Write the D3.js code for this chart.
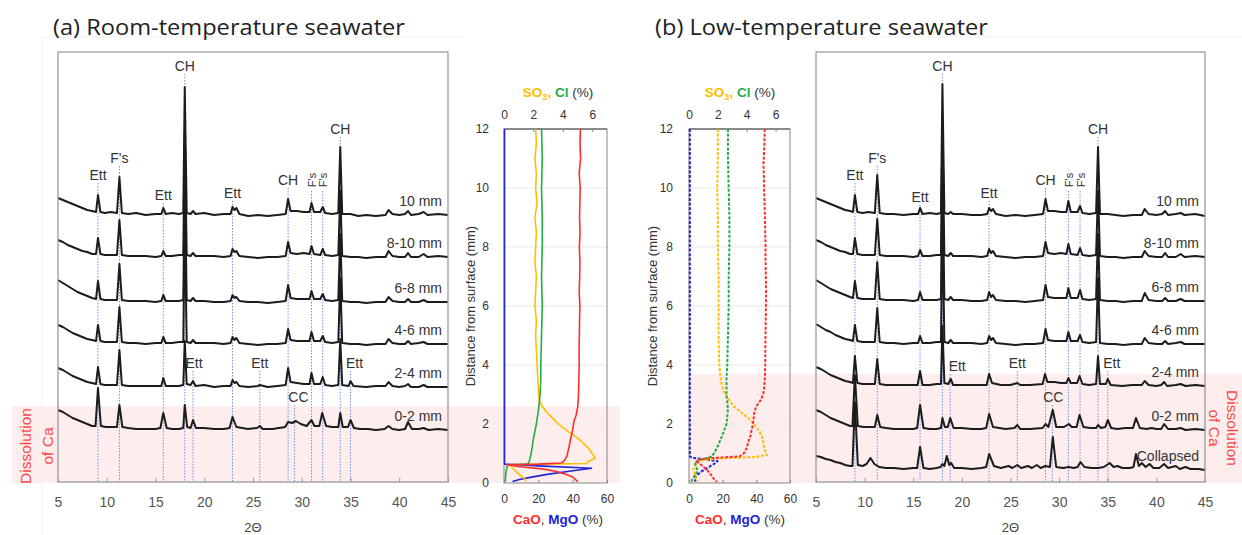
<!DOCTYPE html>
<html>
<head>
<meta charset="utf-8">
<script src="https://cdn.jsdelivr.net/npm/d3@7"></script>
<style>
  body { margin: 0; background: #fff; }
  text { font-family: "Liberation Sans", Arial, sans-serif; }
</style>
</head>
<body>
<svg id="fig" width="1242" height="535"></svg>
<script>
// ---------- XRD patterns: [2theta, intensity above the pattern baseline] ----------
const sampleNamesA = ["10 mm", "8-10 mm", "6-8 mm", "4-6 mm", "2-4 mm", "0-2 mm"];
const sampleNamesB = ["10 mm", "8-10 mm", "6-8 mm", "4-6 mm", "2-4 mm", "0-2 mm", "Collapsed"];
const offsetsA = [267, 225, 180, 138, 95, 52];
const offsetsB = [267, 225, 181, 138, 96, 52, 12];

const xrdA_10 = [[5,17],[5.5,15],[6,13],[6.5,11],[7,9],[7.5,7],[8,5],[8.5,4],[8.9,3],[9.1,20],[9.35,3],[9.8,2],[10.4,3],[11.05,2],[11.3,38],[11.55,2],[12.2,1],[13,2],[14,0],[15,1],[15.6,1],[15.8,7],[16.05,1],[16.7,2],[17.4,1],[17.85,2],[18.0,128],[18.2,2],[18.6,1],[18.85,4],[19.1,1],[20,2],[21,0],[22,1],[22.7,1],[22.9,8],[23.1,5],[23.3,7],[23.6,1],[24.5,-1],[25.5,0],[26.5,-1],[27.5,0],[28.35,1],[28.6,16],[28.85,4],[29.5,4],[30.2,3],[30.8,3],[31.0,12],[31.25,3],[31.9,3],[32.15,8],[32.4,2],[33.1,1],[33.75,2],[33.95,68],[34.15,1],[35,1],[35.8,-1],[36.6,0],[37.6,-1],[38.6,0],[38.9,5],[39.3,1],[40,0],[40.6,1],[40.9,4],[41.2,0],[42,1],[42.5,3],[42.9,0],[44,1],[45,0]];
const xrdA_810 = [[5,17],[5.5,15],[6,12],[6.5,10],[7,8],[7.5,6],[8,5],[8.5,3],[8.9,3],[9.1,19],[9.35,3],[9.8,2],[10.4,2],[11.05,2],[11.3,37],[11.55,2],[12.2,1],[13,1],[14,1],[15,0],[15.6,1],[15.8,6],[16.05,1],[16.7,1],[17.4,2],[17.85,2],[18.0,125],[18.2,2],[18.6,1],[18.85,4],[19.1,1],[20,1],[21,1],[22,0],[22.7,1],[22.9,8],[23.1,5],[23.3,6],[23.6,1],[24.5,0],[25.5,-1],[26.5,0],[27.5,0],[28.35,1],[28.6,15],[28.85,4],[29.5,3],[30.2,4],[30.8,3],[31.0,11],[31.25,3],[31.9,2],[32.15,8],[32.4,2],[33.1,1],[33.75,2],[33.95,66],[34.15,1],[35,0],[35.8,0],[36.6,-1],[37.6,0],[38.6,0],[38.9,6],[39.3,1],[40,0],[40.6,0],[40.9,4],[41.2,0],[42,0],[42.5,3],[42.9,0],[44,1],[45,0]];
const xrdA_68 = [[5,22],[5.5,19],[6,16],[6.5,13],[7,10],[7.5,8],[8,6],[8.5,4],[8.9,3],[9.1,21],[9.35,3],[9.8,2],[10.4,2],[11.05,2],[11.3,38],[11.55,2],[12.2,1],[13,1],[14,1],[15,0],[15.6,1],[15.8,7],[16.05,1],[16.7,1],[17.4,1],[17.85,2],[18.0,126],[18.2,2],[18.6,1],[18.85,4],[19.1,1],[20,1],[21,0],[22,0],[22.7,1],[22.9,7],[23.1,4],[23.3,5],[23.6,1],[24.5,0],[25.5,0],[26.5,-1],[27.5,0],[28.35,1],[28.6,17],[28.85,4],[29.5,3],[30.2,3],[30.8,3],[31.0,11],[31.25,3],[31.9,3],[32.15,8],[32.4,2],[33.1,1],[33.75,2],[33.95,68],[34.15,1],[35,0],[35.8,0],[36.6,-1],[37.6,0],[38.6,0],[38.9,5],[39.3,1],[40,0],[40.6,0],[40.9,3],[41.2,0],[42,0],[42.5,2],[42.9,0],[44,0],[45,0]];
const xrdA_46 = [[5,19],[5.5,17],[6,14],[6.5,11],[7,9],[7.5,7],[8,5],[8.5,4],[8.9,3],[9.1,19],[9.35,3],[9.8,2],[10.4,2],[11.05,2],[11.3,37],[11.55,2],[12.2,1],[13,1],[14,0],[15,1],[15.6,1],[15.8,7],[16.05,1],[16.7,1],[17.4,2],[17.85,2],[18.0,125],[18.2,2],[18.6,1],[18.85,4],[19.1,1],[20,1],[21,1],[22,0],[22.7,1],[22.9,7],[23.1,4],[23.3,6],[23.6,1],[24.5,0],[25.5,-1],[26.5,0],[27.5,0],[28.35,1],[28.6,15],[28.85,4],[29.5,3],[30.2,3],[30.8,3],[31.0,12],[31.25,3],[31.9,3],[32.15,8],[32.4,2],[33.1,1],[33.75,2],[33.95,66],[34.15,1],[35,0],[35.8,0],[36.6,-1],[37.6,0],[38.6,0],[38.9,5],[39.3,1],[40,0],[40.6,0],[40.9,3],[41.2,0],[42,1],[42.5,2],[42.9,0],[44,0],[45,0]];
const xrdA_24 = [[5,19],[5.5,17],[6,14],[6.5,11],[7,9],[7.5,7],[8,5],[8.5,4],[8.9,3],[9.1,20],[9.35,3],[9.8,2],[10.4,2],[11.05,2],[11.3,37],[11.55,2],[12.2,1],[13,1],[14,1],[15,1],[15.6,1],[15.8,9],[16.05,1],[16.7,1],[17.4,1],[17.85,2],[18.0,46],[18.2,3],[18.6,2],[18.85,6],[19.1,1],[20,2],[21,0],[22,1],[22.7,1],[22.9,7],[23.1,4],[23.3,5],[23.6,1],[24.5,0],[25.5,1],[25.7,2],[26.5,0],[27.5,1],[28.35,2],[28.6,19],[28.85,5],[29.5,4],[30.2,3],[30.8,3],[31.0,14],[31.25,3],[31.9,3],[32.15,10],[32.4,2],[33.1,1],[33.75,2],[33.95,48],[34.15,2],[34.8,1],[35.0,6],[35.3,1],[36.6,0],[37.6,1],[38.6,1],[38.9,5],[39.3,1],[40,0],[40.6,1],[40.9,3],[41.2,0],[42,0],[42.5,2],[42.9,0],[44,0],[45,0]];
const xrdA_02 = [[5,20],[5.5,18],[6,15],[6.5,12],[7,10],[7.5,8],[8,6],[8.5,4],[8.85,4],[9.1,42],[9.4,4],[9.9,3],[10.5,3],[11.05,3],[11.3,25],[11.6,3],[12.2,2],[13,1],[14,1],[15,1],[15.5,2],[15.8,17],[16.15,2],[16.7,1],[17.4,1],[17.85,2],[18.0,25],[18.25,3],[18.6,2],[18.85,10],[19.15,2],[20,2],[21,1],[22,1],[22.6,2],[22.9,13],[23.3,3],[24.5,1],[25.4,2],[25.7,4],[26.0,1],[27,1],[28.3,3],[28.6,8],[29.0,7],[29.4,9],[29.9,6],[30.5,4],[31.0,10],[31.3,4],[31.8,4],[32.1,17],[32.5,4],[33.1,3],[33.75,3],[33.95,17],[34.2,3],[34.75,3],[35.0,10],[35.35,2],[36,1],[36.8,1],[37.6,0],[38.5,1],[38.9,4],[39.3,1],[40,0],[40.6,1],[40.9,8],[41.3,1],[42,1],[42.5,2],[43,0],[44,1],[45,0]];

const xrdB_10 = [[5,17],[5.5,15],[6,13],[6.5,11],[7,9],[7.5,7],[8,5],[8.5,4],[8.8,3],[9.0,20],[9.25,3],[9.8,2],[10.4,3],[11.05,2],[11.3,40],[11.55,2],[12.2,1],[13,1],[14,0],[15,1],[15.5,1],[15.7,7],[15.95,1],[16.7,2],[17.4,1],[17.85,2],[18.0,131],[18.2,2],[18.6,1],[18.85,3],[19.1,1],[20,1],[21,0],[22,0],[22.6,1],[22.8,7],[23.0,4],[23.2,6],[23.5,1],[24.5,-1],[25.5,0],[26.5,-1],[27.5,0],[28.35,1],[28.6,16],[28.85,4],[29.5,4],[30.2,3],[30.75,3],[30.95,14],[31.2,3],[31.9,3],[32.15,9],[32.4,2],[33.1,1],[33.8,2],[34.0,68],[34.2,1],[35,1],[35.8,0],[36.6,-1],[37.6,0],[38.5,0],[38.8,6],[39.2,1],[40,0],[40.6,1],[40.9,4],[41.2,0],[42,1],[42.5,2],[42.9,0],[44,1],[45,-1]];
const xrdB_810 = [[5,17],[5.5,15],[6,12],[6.5,10],[7,8],[7.5,6],[8,5],[8.5,3],[8.8,3],[9.0,19],[9.25,3],[9.8,2],[10.4,2],[11.05,2],[11.3,38],[11.55,2],[12.2,1],[13,1],[14,1],[15,0],[15.5,1],[15.7,7],[15.95,1],[16.7,1],[17.4,2],[17.85,2],[18.0,128],[18.2,2],[18.6,1],[18.85,4],[19.1,1],[20,1],[21,1],[22,0],[22.6,1],[22.8,8],[23.0,4],[23.2,6],[23.5,1],[24.5,0],[25.5,-1],[26.5,0],[27.5,0],[28.35,1],[28.6,15],[28.85,4],[29.5,3],[30.2,4],[30.75,3],[30.95,13],[31.2,3],[31.9,2],[32.15,9],[32.4,2],[33.1,1],[33.8,2],[34.0,66],[34.2,1],[35,0],[35.8,0],[36.6,-1],[37.6,0],[38.5,0],[38.8,6],[39.2,1],[40,0],[40.6,0],[40.9,4],[41.2,0],[42,0],[42.5,3],[42.9,0],[44,1],[45,0]];
const xrdB_68 = [[5,21],[5.5,18],[6,15],[6.5,12],[7,10],[7.5,8],[8,6],[8.5,4],[8.8,3],[9.0,20],[9.25,3],[9.8,2],[10.4,2],[11.05,2],[11.3,39],[11.55,2],[12.2,1],[13,1],[14,1],[15,0],[15.5,1],[15.7,9],[15.95,1],[16.7,1],[17.4,1],[17.85,2],[18.0,127],[18.2,2],[18.6,1],[18.85,4],[19.1,1],[20,1],[21,0],[22,0],[22.6,1],[22.8,9],[23.0,4],[23.2,6],[23.5,1],[24.5,0],[25.5,0],[26.5,-1],[27.5,0],[28.35,1],[28.6,16],[28.85,4],[29.5,3],[30.2,3],[30.75,3],[30.95,13],[31.2,3],[31.9,3],[32.15,11],[32.4,2],[33.1,1],[33.8,2],[34.0,67],[34.2,1],[35,0],[35.8,0],[36.6,-1],[37.6,0],[38.5,0],[38.8,8],[39.2,1],[40,0],[40.6,0],[40.9,3],[41.2,0],[42,0],[42.5,2],[42.9,0],[44,0],[45,0]];
const xrdB_46 = [[5,20],[5.5,17],[6,14],[6.5,12],[7,9],[7.5,7],[8,5],[8.5,4],[8.8,3],[9.0,19],[9.25,3],[9.8,2],[10.4,2],[11.05,2],[11.3,36],[11.55,2],[12.2,1],[13,1],[14,0],[15,1],[15.5,1],[15.7,8],[15.95,1],[16.7,1],[17.4,2],[17.85,2],[18.0,125],[18.2,2],[18.6,1],[18.85,4],[19.1,1],[20,1],[21,1],[22,0],[22.6,1],[22.8,8],[23.0,4],[23.2,6],[23.5,1],[24.5,0],[25.5,-1],[26.5,0],[27.5,0],[28.35,1],[28.6,15],[28.85,4],[29.5,3],[30.2,3],[30.75,3],[30.95,12],[31.2,3],[31.9,3],[32.15,9],[32.4,2],[33.1,1],[33.8,2],[34.0,66],[34.2,1],[35,0],[35.8,0],[36.6,-1],[37.6,0],[38.5,0],[38.8,6],[39.2,1],[40,0],[40.6,0],[40.9,3],[41.2,0],[42,1],[42.5,2],[42.9,0],[44,0],[45,0]];
const xrdB_24 = [[5,19],[5.5,17],[6,14],[6.5,11],[7,9],[7.5,7],[8,5],[8.5,4],[8.8,3],[9.0,30],[9.25,3],[9.8,2],[10.4,2],[11.05,2],[11.3,27],[11.55,2],[12.2,1],[13,1],[14,1],[15,1],[15.45,1],[15.7,15],[15.95,1],[16.7,1],[17.4,2],[17.85,2],[18.0,60],[18.2,3],[18.6,2],[18.85,7],[19.1,1],[20,1],[21,1],[22,1],[22.55,1],[22.8,12],[23.1,3],[24,1],[25,1],[25.7,3],[26,1],[27,1],[28.3,2],[28.55,12],[28.8,4],[29.5,4],[30.2,3],[30.75,3],[30.95,8],[31.2,3],[31.85,3],[32.1,10],[32.4,2],[33.1,1],[33.8,2],[34.0,30],[34.2,2],[34.8,2],[35.0,7],[35.3,1],[36.5,0],[37.5,1],[38.5,1],[38.8,5],[39.2,1],[40,0],[40.5,1],[40.8,4],[41.1,0],[42,1],[42.5,2],[43,0],[44,1],[45,0]];
const xrdB_02 = [[5,20],[5.5,18],[6,15],[6.5,12],[7,10],[7.5,8],[8,6],[8.5,4],[8.75,4],[9.0,55],[9.3,4],[9.9,3],[10.5,3],[11.05,3],[11.3,15],[11.6,3],[12.2,2],[13,1],[14,1],[15,1],[15.4,2],[15.7,25],[16.05,2],[16.7,1],[17.4,1],[17.85,2],[18.0,12],[18.25,3],[18.55,3],[18.8,12],[19.15,2],[20,2],[21,1],[22,1],[22.5,2],[22.8,16],[23.2,3],[24.5,1],[25.4,2],[25.7,5],[26.0,1],[27,1],[28.3,2],[28.6,6],[28.9,3],[29.35,20],[29.7,3],[30.5,3],[31.0,6],[31.3,3],[31.8,3],[32.1,15],[32.5,3],[33.2,2],[33.8,2],[34.0,5],[34.3,2],[34.75,3],[35.0,10],[35.35,2],[36,1],[36.8,2],[37.6,2],[37.9,12],[38.3,2],[39,1],[39.5,2],[40,1],[40.5,1],[40.8,6],[41.2,1],[42,1],[42.5,2],[43,0],[44,1],[45,0]];
const xrdB_col = [[5,14],[5.5,13],[6,11],[6.5,10],[7,8],[7.5,7],[8,5],[8.5,4],[8.75,4],[9.0,68],[9.3,5],[9.8,4],[10.2,6],[10.6,12],[11.0,6],[11.5,3],[12.2,2],[13,2],[14,1],[15,2],[15.4,2],[15.7,23],[16.05,2],[16.7,1],[17.4,2],[17.8,3],[18.0,6],[18.2,4],[18.45,14],[18.7,5],[18.9,7],[19.2,2],[20,2],[21,1],[22,2],[22.5,3],[22.8,16],[23.3,4],[24,2],[24.8,4],[25.2,2],[25.7,5],[26.1,2],[26.8,4],[27.2,2],[27.7,5],[28.1,2],[28.6,4],[29.05,3],[29.35,33],[29.7,3],[30.4,2],[31.0,3],[31.5,2],[31.9,3],[32.2,8],[32.6,3],[33.3,2],[34,2],[34.6,3],[35.2,7],[35.6,3],[36,4],[36.5,2],[37.3,2],[37.65,3],[37.9,16],[38.2,4],[38.5,7],[38.9,3],[39.3,6],[39.7,2],[40.3,2],[40.8,6],[41.2,2],[42,4],[42.4,1],[43,3],[43.5,1],[44.3,1],[45,0]];

// phase reference lines (2theta) and their labels
const phasePosA  = [9.1, 11.3, 15.8, 18.0, 22.9, 28.6, 31.0, 32.15, 33.95, 18.85, 25.7, 29.25, 35.0];
const phasePosB  = [9.0, 11.3, 15.7, 18.0, 22.8, 28.6, 30.95, 32.15, 34.0, 18.8, 25.7, 29.3, 35.0];
const phaseTexts = ["Ett", "F's", "Ett", "CH", "Ett", "CH", "F's", "F's", "CH", "Ett", "Ett", "CC", "Ett"];
// layout: label heights (intensity units) and vertical orientation
const labelLevelA = [307, 324, 287, 416, 289, 302, 302, 302, 353, 119, 119, 85, 119];
const labelLevelB = [307, 324, 285, 416, 289, 302, 302, 302, 353, 116, 119, 85, 119];
const labelRotated = [false, false, false, false, false, false, true, true, false, false, false, false, false];

// ---------- depth profiles: [distance from surface (mm), content (%)] ----------
const caoA = [[12,44.5],[11.5,44.3],[11,44.6],[10.5,43.8],[10,44.4],[9.5,44.2],[9,44.0],[8.5,44.3],[8,43.9],[7.5,44.2],[7,44.1],[6.5,43.8],[6,44.2],[5.5,44.0],[5,43.9],[4.5,43.7],[4,43.8],[3.5,43.6],[3,43.4],[2.6,43.0],[2.3,42.0],[2.1,40.8],[1.8,40.0],[1.5,38.8],[1.2,37.8],[0.9,36.6],[0.75,35],[0.68,33.5],[0.64,20],[0.62,2],[0.56,8],[0.48,22],[0.4,30],[0.3,36],[0.2,40],[0.1,42],[0.05,43]];
const mgoA = [[12,0.3],[8,0.3],[4,0.3],[1,0.3],[0.64,0.3],[0.58,20],[0.5,51],[0.4,38],[0.3,26],[0.2,16],[0.12,9],[0.05,5]];
const so3A = [[12,2.15],[11.5,2.2],[11,2.1],[10.5,2.2],[10,2.15],[9.5,2.25],[9,2.1],[8.5,2.2],[8,2.15],[7.5,2.1],[7,2.2],[6.5,2.15],[6,2.1],[5.5,2.2],[5,2.15],[4.5,2.2],[4,2.25],[3.5,2.3],[3,2.35],[2.8,2.4],[2.6,2.6],[2.4,2.9],[2.2,3.3],[2.0,3.7],[1.8,4.2],[1.6,4.8],[1.4,5.3],[1.2,5.7],[1.0,6.0],[0.85,6.2],[0.72,5.7],[0.66,5.6],[0.62,0.4],[0.55,0.5],[0.45,0.7],[0.35,0.9],[0.25,1.1],[0.15,1.4],[0.06,1.5]];
const clA = [[12,2.55],[11,2.6],[10,2.55],[9,2.6],[8,2.6],[7,2.55],[6,2.6],[5,2.55],[4,2.5],[3.5,2.5],[3,2.45],[2.5,2.35],[2,2.2],[1.5,2.0],[1.0,1.85],[0.7,1.7],[0.64,1.6],[0.62,0.3],[0.55,0.2],[0.4,0.15],[0.2,0.1],[0.05,0.1]];

const caoB = [[12,45],[11.6,44.8],[11.2,44.6],[10.8,44.2],[10.4,44.5],[10,44.6],[9.6,44.8],[9.2,45],[8.8,45.2],[8.4,45.3],[8,45.5],[7.6,45.4],[7.2,45.6],[6.8,45.7],[6.4,45.8],[6,45.7],[5.6,45.6],[5.2,45.5],[4.8,45.4],[4.4,45.3],[4,45.3],[3.6,45.1],[3.2,44.6],[3.0,44.0],[2.8,42.5],[2.6,40.0],[2.4,38.8],[2.2,38.4],[2.0,38.0],[1.8,37.2],[1.6,36.5],[1.4,35.3],[1.2,34.4],[1.0,32.5],[0.9,30],[0.84,12],[0.8,6],[0.72,4.5],[0.6,7.5],[0.48,10],[0.36,12],[0.24,13.5],[0.12,15],[0.04,16.5]];
const mgoB = [[12,0.5],[10,0.5],[8,0.5],[6,0.5],[4,0.5],[2,0.5],[0.9,0.5],[0.85,2],[0.8,10],[0.74,17],[0.65,15],[0.55,12],[0.45,9],[0.35,6.5],[0.25,4.5],[0.15,3],[0.05,4]];
const so3B = [[12,2.0],[11,2.0],[10,1.95],[9,2.0],[8,2.0],[7,2.05],[6,2.05],[5,2.05],[4,2.1],[3.5,2.2],[3.2,2.35],[3.0,2.5],[2.8,2.8],[2.6,3.1],[2.4,3.6],[2.2,4.1],[2.0,4.5],[1.8,4.8],[1.6,5.05],[1.4,5.15],[1.2,5.2],[1.0,5.35],[0.95,5.4],[0.88,4.6],[0.84,2.5],[0.8,1.2],[0.72,0.6],[0.6,0.4],[0.45,0.3],[0.3,0.4],[0.15,0.5],[0.05,0.6]];
const clB = [[12,2.7],[11,2.7],[10,2.75],[9,2.8],[8,2.8],[7,2.75],[6,2.75],[5,2.7],[4,2.65],[3.5,2.6],[3,2.6],[2.5,2.7],[2.0,2.6],[1.6,2.3],[1.2,1.95],[0.9,1.6],[0.84,1.2],[0.78,0.7],[0.7,0.4],[0.55,0.5],[0.4,0.6],[0.25,0.4],[0.1,0.2],[0.04,0.2]];

// depth of the "Dissolution of Ca" zone (mm)
const dissolutionDepth = [2.6, 3.7];

const profileTicksY = [0, 2, 4, 6, 8, 10, 12];
const ticksTop = [0, 2, 4, 6];
const ticksBottom = [0, 20, 40, 60];
const ticks2theta = [5, 10, 15, 20, 25, 30, 35, 40, 45];

const col = { cao: "#ff2e2e", mgo: "#2323d8", so3: "#ffbf00", cl: "#1fae45" };

// ---------------------------------------------------------------------
const svg = d3.select("#fig");
const yProf = d3.scaleLinear().domain([0, 12]).range([483, 129]);
const yX = d3.scaleLinear().domain([0, 430]).range([482, 52]);

// faint borders of the original sub-images
svg.append("path").attr("d", "M42,535V37H462").attr("fill", "none").attr("stroke", "#efefef");
svg.append("path").attr("d", "M800,37H1258V535").attr("fill", "none").attr("stroke", "#f2f2f2");

// pink dissolution bands
svg.append("rect").attr("x", 12).attr("width", 608)
    .attr("y", yProf(dissolutionDepth[0])).attr("height", yProf(0) - yProf(dissolutionDepth[0]))
    .attr("fill", "#fdeded");
svg.append("rect").attr("x", 689).attr("width", 553)
    .attr("y", yProf(dissolutionDepth[1])).attr("height", yProf(0) - yProf(dissolutionDepth[1]))
    .attr("fill", "#fdeded");

// titles
svg.append("text").attr("x", 53).attr("y", 35).attr("font-size", 21).attr("fill", "#222")
    .attr("textLength", 352).attr("lengthAdjust", "spacingAndGlyphs")
    .style("font-family", "'Open Sans', 'Noto Sans', sans-serif")
    .text("(a) Room-temperature seawater");
svg.append("text").attr("x", 655).attr("y", 35).attr("font-size", 21).attr("fill", "#222")
    .attr("textLength", 333).attr("lengthAdjust", "spacingAndGlyphs")
    .style("font-family", "'Open Sans', 'Noto Sans', sans-serif")
    .text("(b) Low-temperature seawater");

// "Dissolution of Ca"
function dissolutionLabel(xs, cy, angle) {
    ["Dissolution", "of Ca"].forEach((t, i) => {
        svg.append("text")
            .attr("transform", `translate(${xs[i]},${cy}) rotate(${angle})`)
            .attr("text-anchor", "middle").attr("dominant-baseline", "central")
            .attr("font-size", 15.5).attr("fill", "#ff4747").text(t);
    });
}
dissolutionLabel([25, 47], 446, -90);
dissolutionLabel([1232, 1214], 428, 90);

// ---------- XRD panels ----------
function xrdPanel(cfg) {
    const x = d3.scaleLinear().domain([5, 45]).range(cfg.range);
    const g = svg.append("g");

    // reference lines + phase labels
    cfg.phases.forEach((t, i) => {
        const lv = cfg.levels[i];
        g.append("line")
            .attr("x1", x(t)).attr("x2", x(t))
            .attr("y1", yX(lv) + (labelRotated[i] ? 11 : 8)).attr("y2", yX(0))
            .attr("stroke", "#6f93e0").attr("stroke-width", 1).attr("stroke-dasharray", "1.5,1.5");
        const lbl = g.append("text").attr("fill", "#333").text(phaseTexts[i]);
        if (labelRotated[i]) {
            lbl.attr("transform", `translate(${x(t) + 0.5},${yX(lv)}) rotate(-90)`)
                .attr("text-anchor", "middle").attr("dominant-baseline", "central").attr("font-size", 11);
        } else {
            lbl.attr("x", x(t) + (cfg.labelDx[i] || 0)).attr("y", yX(lv))
                .attr("text-anchor", "middle").attr("dominant-baseline", "central").attr("font-size", 14);
        }
    });

    const line = d3.line().x(d => x(d[0])).y(d => yX(d[1]));
    cfg.patterns.forEach((p, i) => {
        const off = cfg.offsets[i];
        g.append("path")
            .attr("d", line(p.map(d => [d[0], d[1] + off])))
            .attr("fill", "none").attr("stroke", "#1c1c1c").attr("stroke-width", 2)
            .attr("stroke-linejoin", "round");
        g.append("text")
            .attr("x", cfg.range[1] - 6).attr("y", yX(off) - 14)
            .attr("text-anchor", "end").attr("dominant-baseline", "central")
            .attr("font-size", 14).attr("fill", "#333").text(cfg.names[i]);
    });

    // frame
    g.append("rect")
        .attr("x", cfg.range[0]).attr("y", yX(430))
        .attr("width", cfg.range[1] - cfg.range[0]).attr("height", yX(0) - yX(430))
        .attr("fill", "none").attr("stroke", "#9c9c9c").attr("stroke-width", 1.3);

    const ax = g.append("g").attr("transform", `translate(0,${yX(0)})`)
        .call(d3.axisBottom(x).tickValues(ticks2theta).tickSize(-4).tickPadding(15));
    ax.select(".domain").remove();
    ax.selectAll(".tick line").attr("stroke", "#999");
    ax.selectAll(".tick text").attr("font-size", 14).attr("fill", "#555")
        .style("font-family", "'Liberation Sans', Arial, sans-serif");

    g.append("text").attr("x", x(25)).attr("y", 532)
        .attr("text-anchor", "middle").attr("font-size", 13).attr("fill", "#444").text("2Θ");
}

xrdPanel({
    range: [58, 448],
    patterns: [xrdA_10, xrdA_810, xrdA_68, xrdA_46, xrdA_24, xrdA_02],
    offsets: offsetsA, names: sampleNamesA,
    phases: phasePosA, levels: labelLevelA,
    labelDx: [0, 0, 0, 0, 0, 0, 0, 0, 0, 1, 0, 4, 4]
});
xrdPanel({
    range: [816, 1205],
    patterns: [xrdB_10, xrdB_810, xrdB_68, xrdB_46, xrdB_24, xrdB_02, xrdB_col],
    offsets: offsetsB, names: sampleNamesB,
    phases: phasePosB, levels: labelLevelB,
    labelDx: [0, 0, 0, 0, 0, 0, 0, 0, 0, 7, 0, 1, 4]
});

// ---------- depth profile panels ----------
function profilePanel(cfg) {
    const xb = d3.scaleLinear().domain([0, 60]).range(cfg.range);
    const xt = d3.scaleLinear().domain([0, 7]).range(cfg.range);
    const g = svg.append("g");
    const [x0, x1] = cfg.range;

    g.selectAll(".grid").data([2, 4, 6, 8, 10]).enter().append("line")
        .attr("x1", x0).attr("x2", x1)
        .attr("y1", d => yProf(d)).attr("y2", d => yProf(d))
        .attr("stroke", "#e9e9e9");

    g.append("rect").attr("x", x0).attr("y", yProf(12))
        .attr("width", x1 - x0).attr("height", yProf(0) - yProf(12))
        .attr("fill", "none").attr("stroke", "#9a9a9a").attr("stroke-width", 1.2);
    g.append("line").attr("x1", x0).attr("x2", x1).attr("y1", yProf(12)).attr("y2", yProf(12))
        .attr("stroke", "#8a8a8a").attr("stroke-width", 2.2);

    const styleAxis = (a) => {
        a.select(".domain").remove();
        a.selectAll(".tick line").attr("stroke", "#888");
        a.selectAll(".tick text").attr("font-size", 12).attr("fill", "#333")
            .style("font-family", "'Liberation Sans', Arial, sans-serif");
    };
    const fmt = d3.format("d");
    styleAxis(g.append("g").attr("transform", `translate(${x0},0)`)
        .call(d3.axisLeft(yProf).tickValues(profileTicksY).tickFormat(fmt).tickSize(0).tickPadding(cfg.padY)));
    styleAxis(g.append("g").attr("transform", `translate(0,${yProf(12)})`)
        .call(d3.axisTop(xt).tickValues(ticksTop).tickFormat(fmt).tickSize(-3).tickPadding(10)));
    styleAxis(g.append("g").attr("transform", `translate(0,${yProf(0)})`)
        .call(d3.axisBottom(xb).tickValues(ticksBottom).tickFormat(fmt).tickSize(-3).tickPadding(11)));

    const lineB = d3.line().x(d => xb(d[1])).y(d => yProf(d[0]));
    const lineT = d3.line().x(d => xt(d[1])).y(d => yProf(d[0]));
    const series = [
        [cfg.mgo, lineB, col.mgo],
        [cfg.so3, lineT, col.so3],
        [cfg.cl, lineT, col.cl],
        [cfg.cao, lineB, col.cao]
    ];
    series.forEach(([data, ln, c]) => {
        g.append("path").attr("d", ln(data)).attr("fill", "none")
            .attr("stroke", c).attr("stroke-width", cfg.dash ? 2 : 1.6)
            .attr("stroke-dasharray", cfg.dash || null)
            .attr("stroke-linejoin", "round");
    });

    // axis titles
    const cx = cfg.titleX;
    const top = g.append("text").attr("x", cx).attr("y", 97).attr("text-anchor", "middle")
        .attr("font-size", 13.5).attr("fill", "#333");
    top.append("tspan").attr("fill", col.so3).attr("font-weight", "bold").text("SO");
    top.append("tspan").attr("fill", col.so3).attr("font-weight", "bold")
        .attr("font-size", 9).attr("dy", 3).text("3");
    top.append("tspan").attr("fill", col.so3).attr("font-weight", "bold").attr("dy", -3).text(", ");
    top.append("tspan").attr("fill", col.cl).attr("font-weight", "bold").text("Cl");
    top.append("tspan").text(" (%)");

    const bot = g.append("text").attr("x", cx).attr("y", 524).attr("text-anchor", "middle")
        .attr("font-size", 13.5).attr("fill", "#333");
    bot.append("tspan").attr("fill", col.cao).attr("font-weight", "bold").text("CaO");
    bot.append("tspan").text(", ");
    bot.append("tspan").attr("fill", col.mgo).attr("font-weight", "bold").text("MgO");
    bot.append("tspan").text(" (%)");

    g.append("text")
        .attr("transform", `translate(${cfg.labelX},${yProf(6)}) rotate(-90)`)
        .attr("text-anchor", "middle").attr("dominant-baseline", "central")
        .attr("font-size", 13).attr("fill", "#333").text("Distance from surface (mm)");
}

profilePanel({ range: [504, 607], padY: 15, labelX: 470, titleX: 558,
    cao: caoA, mgo: mgoA, so3: so3A, cl: clA, dash: null });
profilePanel({ range: [689, 790], padY: 16, labelX: 652, titleX: 740,
    cao: caoB, mgo: mgoB, so3: so3B, cl: clB, dash: "3,1.6" });
</script>
</body>
</html>
